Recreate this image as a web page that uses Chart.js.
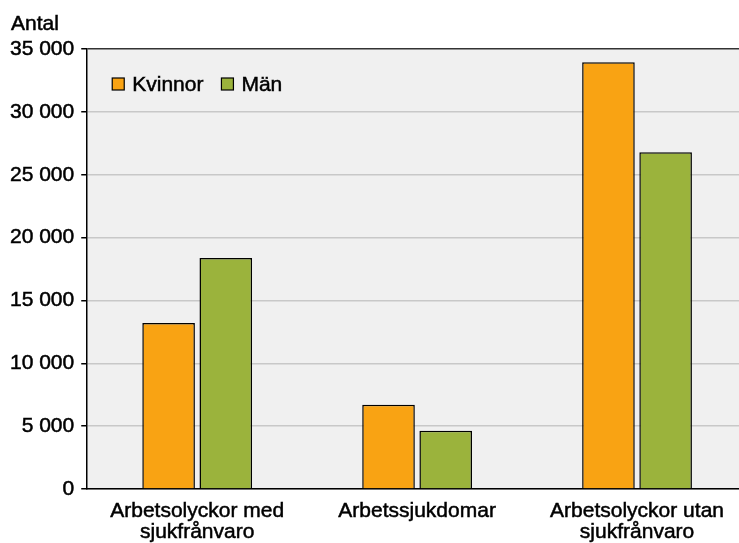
<!DOCTYPE html>
<html><head><meta charset="utf-8">
<script src="https://cdn.jsdelivr.net/npm/chart.js@4/dist/chart.umd.min.js"></script>
<style>
html,body{margin:0;padding:0;background:#fff;overflow:hidden;width:739px;height:543px;}
#wrap{position:absolute;left:0;top:0;width:760px;height:559px;}
</style></head>
<body>
<div id="wrap"><canvas id="c"></canvas></div>
<script>
const categories = [["Arbetsolyckor med","sjukfrånvaro"],"Arbetssjukdomar",["Arbetsolyckor utan","sjukfrånvaro"]];
const kvinnor = [13200, 6700, 33950];
const man = [18380, 4640, 26780];
const seriesNames = ["Kvinnor","Män"];
const yTicks = [0,5000,10000,15000,20000,25000,30000,35000];
const yTitle = "Antal";

const FONT = "'Liberation Sans', Arial, sans-serif";
const fmt = v => String(v).replace(/\B(?=(\d{3})+(?!\d))/g,' ');

function heavyText(ctx, s, x, y){
  ctx.lineWidth = 0.5; ctx.strokeStyle = '#000';
  ctx.strokeText(s, x, y);
  ctx.fillText(s, x, y);
}

const bgPlugin = {
  id:'bg',
  beforeDraw(chart){
    const {ctx, chartArea:a} = chart;
    ctx.save(); ctx.fillStyle='#f0f0f0';
    ctx.fillRect(a.left,a.top,a.right-a.left,a.bottom-a.top);
    ctx.restore();
  },
  afterDraw(chart){
    const {ctx, chartArea:a} = chart;
    ctx.save();
    ctx.font = "21px " + FONT;
    ctx.fillStyle='#000'; ctx.textBaseline='alphabetic'; ctx.textAlign='left';
    heavyText(ctx, yTitle, 11, 30);
    // legend
    let x = a.left + 25;
    const y = 84;
    chart.data.datasets.forEach(ds=>{
      ctx.fillStyle = ds.backgroundColor;
      ctx.fillRect(x, y-6, 12, 12);
      ctx.strokeStyle='#000'; ctx.lineWidth=1.2;
      ctx.strokeRect(x, y-6, 12, 12);
      ctx.fillStyle='#000'; ctx.textBaseline='middle';
      heavyText(ctx, ds.label, x+20, y+1);
      x += 20 + ctx.measureText(ds.label).width + 18;
    });
    ctx.restore();
  }
};

new Chart(document.getElementById('c'), {
  type:'bar',
  data:{
    labels:categories,
    datasets:[
      {label:seriesNames[0], data:kvinnor, backgroundColor:'#F9A313', borderColor:'#000', borderWidth:1.5, borderSkipped:'bottom'},
      {label:seriesNames[1], data:man, backgroundColor:'#9BB33C', borderColor:'#000', borderWidth:1.5, borderSkipped:'bottom'}
    ]
  },
  options:{
    responsive:true, maintainAspectRatio:false, animation:false,
    layout:{padding:{left:3,right:13,top:49,bottom:4}},
    categoryPercentage:0.52, barPercentage:0.92,
    plugins:{legend:{display:false}, tooltip:{enabled:false}, title:{display:false}},
    scales:{
      x:{
        grid:{display:false, drawTicks:false},
        border:{display:true,color:'#000',width:1.5},
        ticks:{color:'#000',font:{family:FONT,size:21,lineHeight:1.0},padding:12,maxRotation:0,autoSkip:false,
               textStrokeColor:'#000',textStrokeWidth:0.5}
      },
      y:{
        min:0,max:35000,
        afterBuildTicks(s){ s.ticks = yTicks.map(v=>({value:v})); },
        grid:{
          color:c=> c.tick && c.tick.value===35000 ? '#333' : '#c8c8c8',
          lineWidth:1.5, tickColor:'#000', tickLength:6, drawTicks:true
        },
        border:{display:true,color:'#000',width:1.5},
        ticks:{color:'#000',font:{family:FONT,size:21},padding:7,callback:v=>fmt(v),
               textStrokeColor:'#000',textStrokeWidth:0.5}
      }
    }
  },
  plugins:[bgPlugin]
});
</script>
</body></html>
